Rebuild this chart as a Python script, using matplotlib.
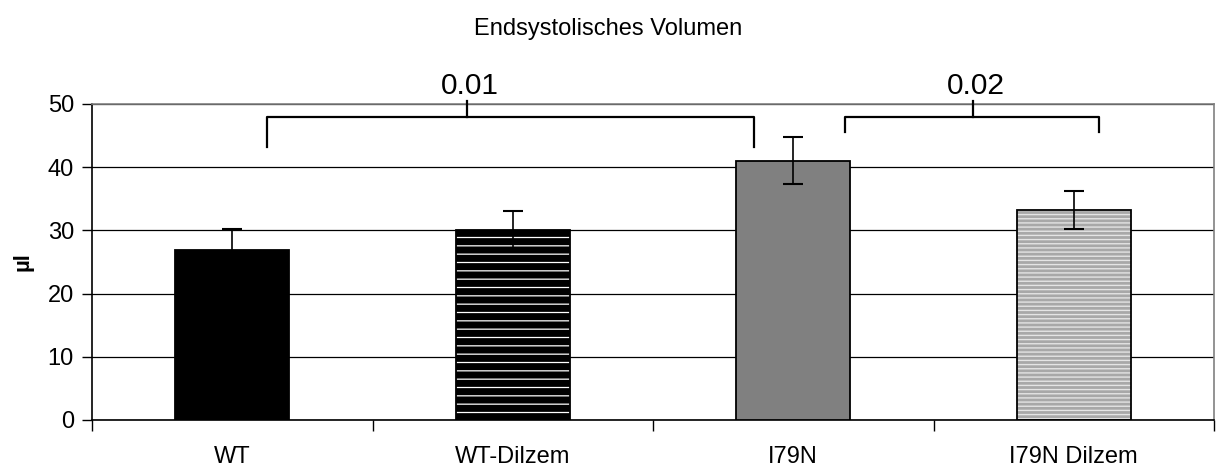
import matplotlib
matplotlib.use("Agg")
import matplotlib.pyplot as plt

plt.rcParams['font.family'] = ['Liberation Sans', 'DejaVu Sans']

# group means and standard errors (µl)
groups = ["WT", "WT-Dilzem", "I79N", "I79N Dilzem"]
esv_mean = [26.9, 30.0, 41.0, 33.2]
esv_err = [3.3, 3.0, 3.7, 3.0]
p_values = ["0.01", "0.02"]
y_ticks = [0, 10, 20, 30, 40, 50]


def draw_bar(ax, x, h, face, hatch=None, hatch_color="white", hatch_lw=1.0):
    '''Bar with optional coloured hatch and a black outline'''
    if hatch:
        with plt.rc_context({'hatch.linewidth': hatch_lw}):
            ax.bar(x, h, width=0.405, color=face, edgecolor=hatch_color,
                   hatch=hatch, linewidth=0, zorder=2)
        ax.bar(x, h, width=0.405, color="none", edgecolor="black",
               linewidth=1.3, zorder=3)
    else:
        ax.bar(x, h, width=0.405, color=face, edgecolor="black",
               linewidth=1.3, zorder=3)


def bracket(ax, x0, x1, xm, y_top, y0, y1, label):
    '''Significance bracket with a centre tick and p-value'''
    ax.plot([x0, x0, x1, x1], [y0, y_top, y_top, y1], color="black",
            linewidth=1.6, clip_on=False, zorder=5)
    ax.plot([xm, xm], [y_top, y_top + 2.4], color="black",
            linewidth=1.6, clip_on=False, zorder=5)
    ax.text(xm + 0.01, y_top + 2.7, label, ha="center", va="bottom",
            fontsize=21.5, clip_on=False)


def main():
    fig = plt.figure(figsize=(12.16, 4.68), dpi=100)
    ax = fig.add_axes([92 / 1216, 48 / 468, 1122 / 1216, 316 / 468])

    styles = [
        dict(face="black"),
        dict(face="black", hatch="--", hatch_color="white", hatch_lw=0.9),
        dict(face="#808080"),
        dict(face="#a8a8a8", hatch="----", hatch_color="#e4e4e4", hatch_lw=1.0),
    ]
    xs = list(range(len(groups)))
    for x, h, st in zip(xs, esv_mean, styles):
        draw_bar(ax, x, h, **st)

    ax.errorbar(xs, esv_mean, yerr=esv_err, fmt="none", ecolor="black",
                elinewidth=1.2, capsize=7, capthick=1.5, zorder=4)

    ax.set_xlim(-0.5, 3.5)
    ax.set_ylim(0, 50)
    ax.set_yticks(y_ticks)
    ax.yaxis.grid(True, color="black", linewidth=0.9)
    ax.set_axisbelow(True)
    ax.tick_params(axis="y", direction="out", length=7, width=1,
                   labelsize=17, pad=6)

    # category boundaries carry the ticks, names sit in between
    ax.set_xticks([-0.5, 0.5, 1.5, 2.5, 3.5])
    ax.set_xticklabels([])
    ax.set_xticks(xs, minor=True)
    ax.set_xticklabels(groups, minor=True)
    ax.tick_params(axis="x", which="major", direction="out", length=8, width=1)
    ax.tick_params(axis="x", which="minor", length=0, labelsize=17, pad=19)

    for side in ("top", "right"):
        ax.spines[side].set_color("#808080")
        ax.spines[side].set_linewidth(1.2)
    for side in ("left", "bottom"):
        ax.spines[side].set_color("black")
        ax.spines[side].set_linewidth(1.2)

    ax.set_ylabel("µl", fontsize=16, fontweight="bold", labelpad=10)

    bracket(ax, 0.125, 1.86, 0.836, 48.0, 43.2, 43.2, p_values[0])
    bracket(ax, 2.186, 3.09, 2.64, 48.0, 45.6, 45.6, p_values[1])

    fig.text(0.5, 1 - 29 / 468, "Endsystolisches Volumen", ha="center",
             va="center", fontsize=17)

    fig.savefig("out.png", dpi=100)


if __name__ == "__main__":
    main()
